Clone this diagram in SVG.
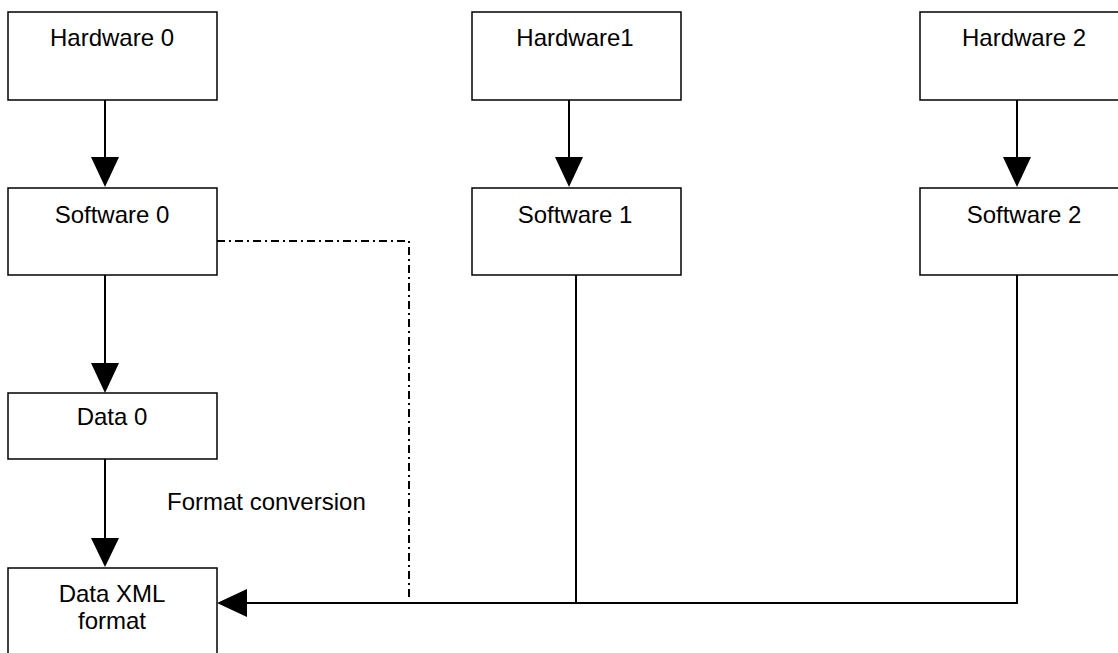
<svg xmlns="http://www.w3.org/2000/svg" width="1118" height="653" viewBox="0 0 1118 653">
  <style>
    .box { fill: #ffffff; stroke: #000000; stroke-width: 1.5; }
    .label { font-family: "Liberation Sans", Arial, sans-serif; font-size: 24px; fill: #000000; text-anchor: middle; }
    .free { font-family: "Liberation Sans", Arial, sans-serif; font-size: 24px; fill: #000000; }
    .wire { fill: none; stroke: #000000; stroke-width: 2; }
    .dashdot { fill: none; stroke: #000000; stroke-width: 2; stroke-dasharray: 8 4 2 4; }
    .head { fill: #000000; stroke: none; }
  </style>
  <rect width="1118" height="653" fill="#ffffff"/>

  <g id="connectors">
    <!-- Hardware -> Software, per column -->
    <line class="wire" x1="105" y1="100" x2="105" y2="158"/>
    <polygon class="head" points="91,157 119,157 105,187"/>
    <line class="wire" x1="569" y1="100" x2="569" y2="158"/>
    <polygon class="head" points="555,157 583,157 569,187"/>
    <line class="wire" x1="1017" y1="100" x2="1017" y2="158"/>
    <polygon class="head" points="1003,157 1031,157 1017,187"/>

    <!-- Software 0 -> Data 0 -> Data XML format -->
    <line class="wire" x1="105" y1="275" x2="105" y2="364"/>
    <polygon class="head" points="91,363 119,363 105,393"/>
    <line class="wire" x1="105" y1="459" x2="105" y2="539"/>
    <polygon class="head" points="91,538 119,538 105,567"/>

    <!-- Software 0 dash-dot link down to the bus -->
    <polyline class="dashdot" points="217,241 409,241 409,598"/>

    <!-- Software 1 and Software 2 feeding the common bus -->
    <line class="wire" x1="576" y1="275" x2="576" y2="603"/>
    <polyline class="wire" points="1017,275 1017,603 246,603"/>
    <polygon class="head" points="247,589 247,617 217,603"/>
  </g>

  <g id="hardware0">
    <rect class="box" x="8" y="12" width="209" height="88"/>
    <text class="label" x="112" y="46">Hardware 0</text>
  </g>
  <g id="hardware1">
    <rect class="box" x="472" y="12" width="209" height="88"/>
    <text class="label" x="575" y="46">Hardware1</text>
  </g>
  <g id="hardware2">
    <rect class="box" x="920" y="12" width="209" height="88"/>
    <text class="label" x="1024" y="46">Hardware 2</text>
  </g>

  <g id="software0">
    <rect class="box" x="8" y="188" width="209" height="87"/>
    <text class="label" x="112" y="223">Software 0</text>
  </g>
  <g id="software1">
    <rect class="box" x="472" y="188" width="209" height="87"/>
    <text class="label" x="575" y="223">Software 1</text>
  </g>
  <g id="software2">
    <rect class="box" x="920" y="188" width="209" height="87"/>
    <text class="label" x="1024" y="223">Software 2</text>
  </g>

  <g id="data0">
    <rect class="box" x="8" y="393" width="209" height="66"/>
    <text class="label" x="112" y="425">Data 0</text>
  </g>

  <g id="dataxml">
    <rect class="box" x="8" y="568" width="209" height="100"/>
    <text class="label" x="112" y="602">Data XML</text>
    <text class="label" x="112" y="629">format</text>
  </g>

  <g id="format-conversion-label">
    <text class="free" x="167" y="510">Format conversion</text>
  </g>
</svg>
